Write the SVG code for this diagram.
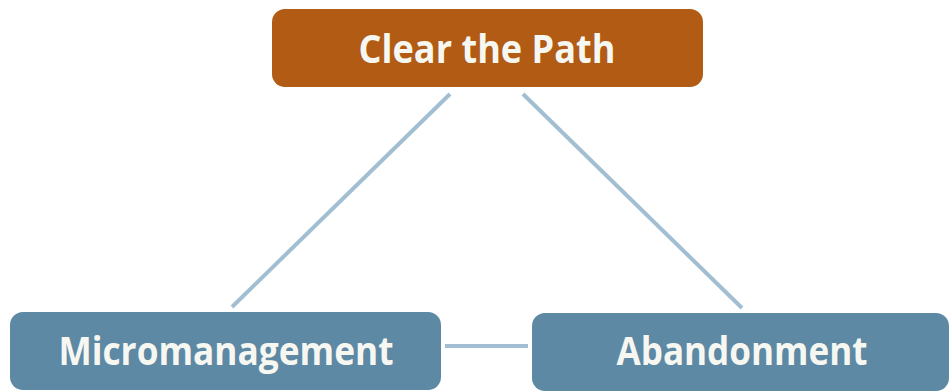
<svg xmlns="http://www.w3.org/2000/svg" width="951" height="391" viewBox="0 0 951 391">
<style>
.top{fill:#b15b14}
.bot{fill:#5d89a5}
.lbl{font-family:"Open Sans","Noto Sans",sans-serif;font-weight:700;font-size:39px;fill:#f7f7f2;text-anchor:middle}
.con{stroke:#a2bed2;stroke-width:4;fill:none}
</style>
<rect width="951" height="391" fill="#ffffff"/>
<g id="connectors">
<line class="con" x1="450" y1="94" x2="232" y2="307"/>
<line class="con" x1="523" y1="94" x2="742" y2="308"/>
<line class="con" x1="445" y1="346" x2="528" y2="346"/>
</g>
<g id="clear-the-path">
<rect class="top" x="272" y="9" width="431" height="78" rx="13"/>
<text class="lbl" x="487" y="63" textLength="257" lengthAdjust="spacingAndGlyphs">Clear the Path</text>
</g>
<g id="micromanagement">
<rect class="bot" x="10" y="312" width="431" height="78" rx="13"/>
<text class="lbl" x="226" y="365" textLength="335" lengthAdjust="spacingAndGlyphs">Micromanagement</text>
</g>
<g id="abandonment">
<rect class="bot" x="532" y="313" width="417" height="78" rx="13"/>
<text class="lbl" x="742" y="365" textLength="251" lengthAdjust="spacingAndGlyphs">Abandonment</text>
</g>
</svg>
